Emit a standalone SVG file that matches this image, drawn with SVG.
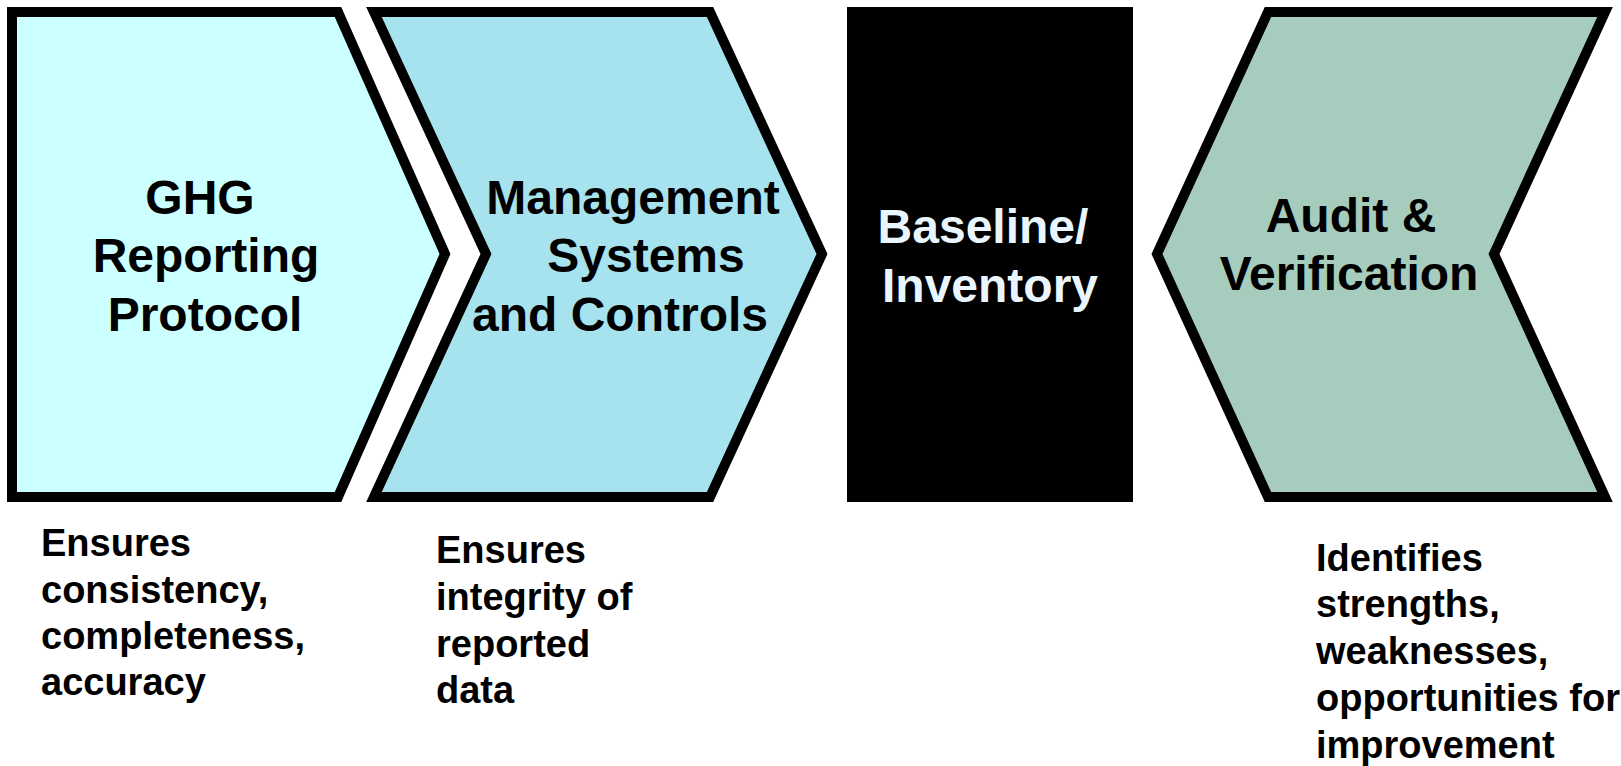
<svg xmlns="http://www.w3.org/2000/svg" width="1621" height="766" viewBox="0 0 1621 766">
  <style>
    .shape { stroke: #000; stroke-width: 10; stroke-linejoin: miter; stroke-miterlimit: 10; }
    .title { font-family: "Liberation Sans", Arial, sans-serif; font-weight: bold; font-size: 48px; fill: #000; text-anchor: middle; }
    .title.light { fill: #EAF6FF; }
    .note { font-family: "Liberation Sans", Arial, sans-serif; font-weight: bold; font-size: 38px; fill: #000; }
  </style>
  <rect width="1621" height="766" fill="#fff"/>

  <!-- Step 1: protocol chevron -->
  <g id="ghg-protocol">
    <path class="shape" fill="#CCFFFF" d="M12,12 L338,12 L445,254 L338,497 L12,497 Z"/>
    <text class="title" x="200" y="214">GHG</text>
    <text class="title" x="206" y="272">Reporting</text>
    <text class="title" x="205" y="331">Protocol</text>
  </g>

  <!-- Step 2: management systems chevron -->
  <g id="management-systems">
    <path class="shape" fill="#A7E2EF" d="M374,12 L710,12 L822,254 L710,497 L374,497 L486,254 Z"/>
    <text class="title" x="633" y="214">Management</text>
    <text class="title" x="646" y="272">Systems</text>
    <text class="title" x="620" y="331">and Controls</text>
  </g>

  <!-- Step 3: baseline block -->
  <g id="baseline-inventory">
    <rect x="847" y="7" width="286" height="495" fill="#000"/>
    <text class="title light" x="983" y="243">Baseline/</text>
    <text class="title light" x="990" y="302">Inventory</text>
  </g>

  <!-- Step 4: audit chevron pointing back -->
  <g id="audit-verification">
    <path class="shape" fill="#A5CCBC" d="M1268,12 L1605,12 L1494,254 L1605,497 L1268,497 L1157,254 Z"/>
    <text class="title" x="1351" y="232">Audit &amp;</text>
    <text class="title" x="1349" y="290">Verification</text>
  </g>

  <!-- Descriptions under the steps -->
  <g id="note-protocol">
    <text class="note" x="41" y="556">Ensures</text>
    <text class="note" x="41" y="603">consistency,</text>
    <text class="note" x="41" y="649">completeness,</text>
    <text class="note" x="41" y="695">accuracy</text>
  </g>
  <g id="note-management">
    <text class="note" x="436" y="563">Ensures</text>
    <text class="note" x="436" y="610">integrity of</text>
    <text class="note" x="436" y="657">reported</text>
    <text class="note" x="436" y="703">data</text>
  </g>
  <g id="note-audit">
    <text class="note" x="1316" y="571">Identifies</text>
    <text class="note" x="1316" y="617">strengths,</text>
    <text class="note" x="1316" y="664">weaknesses,</text>
    <text class="note" x="1316" y="711">opportunities for</text>
    <text class="note" x="1316" y="758">improvement</text>
  </g>

  <g id="connectors"></g>
</svg>
